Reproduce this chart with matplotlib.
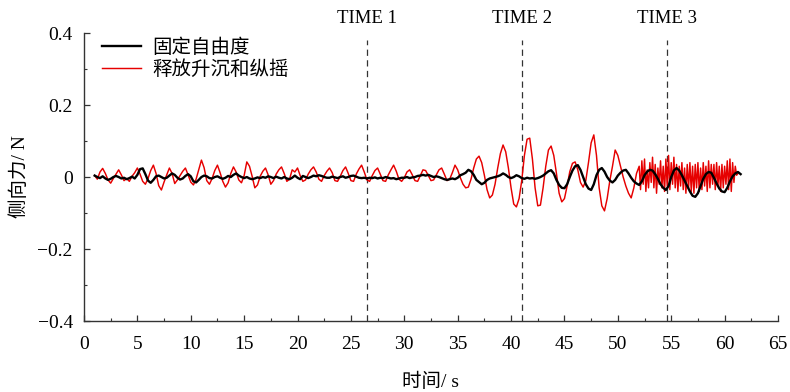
import numpy as np
import matplotlib
matplotlib.use("Agg")
import matplotlib.pyplot as plt
from matplotlib.ticker import MultipleLocator

plt.rcParams['font.family'] = ['Liberation Serif', 'Noto Sans CJK SC', 'DejaVu Sans']

# red: 释放升沉和纵摇, part A sampled every 0.25 s from t = 1.0 s
red_a_start, red_a_step = 1.0, 0.25
red_a = [
    0.004, -0.006, 0.014, 0.024,    # 1
    0.010, -0.008, -0.017, -0.004,  # 2
    0.008, 0.020, 0.006, -0.010,    # 3
    -0.004, -0.012, 0.002, 0.012,   # 4
    0.025, 0.008, -0.012, -0.020,   # 5
    -0.004, 0.018, 0.033, 0.010,    # 6
    -0.024, -0.036, -0.014, 0.006,  # 7
    0.025, 0.010, -0.018, -0.008,   # 8
    0.004, 0.016, 0.025, 0.006,     # 9
    -0.014, -0.022, -0.006, 0.020,  # 10
    0.047, 0.026, -0.010, -0.020,   # 11
    -0.004, 0.018, 0.033, 0.012,    # 12
    -0.012, -0.028, -0.016, 0.010,  # 13
    0.028, 0.014, -0.008, -0.016,   # 14
    0.004, 0.042, 0.030, 0.002,     # 15
    -0.030, -0.022, 0.002, 0.016,   # 16
    0.025, 0.006, -0.020, -0.010,   # 17
    0.008, 0.020, 0.028, 0.010,     # 18
    -0.012, -0.006, 0.020, 0.014,   # 19
    0.025, 0.004, -0.012, -0.008,   # 20
    0.008, 0.020, 0.028, 0.014,     # 21
    -0.006, -0.012, 0.004, 0.016,   # 22
    0.025, 0.012, -0.010, -0.012,   # 23
    0.002, 0.018, 0.028, 0.010,     # 24
    -0.010, -0.012, 0.008, 0.022,   # 25
    0.033, 0.014, -0.008, -0.012,   # 26
    0.004, 0.018, 0.025, 0.008,     # 27
    -0.010, -0.012, 0.006, 0.020,   # 28
    0.033, 0.016, -0.006, -0.012,   # 29
    -0.002, 0.014, 0.020, 0.006,    # 30
    -0.010, -0.012, 0.004, 0.020,   # 31
    0.018, 0.004, -0.010, -0.008,   # 32
    0.006, 0.020, 0.025, 0.008,     # 33
    -0.010, -0.006, 0.012, 0.033,   # 34
    0.020, -0.002, -0.020, -0.030,  # 35
    -0.028, -0.006, 0.025, 0.050,   # 36
    0.058, 0.040, 0.005, -0.035,    # 37
    -0.058, -0.050, -0.020, 0.025,  # 38
    0.065, 0.089, 0.070, 0.025,     # 39
    -0.030, -0.075, -0.083, -0.060, # 40
    -0.010, 0.060, 0.105, 0.108,    # 41
    0.050, -0.030, -0.080, -0.078,  # 42
    -0.030, 0.030, 0.075, 0.086,    # 43
    0.060, 0.010, -0.045, -0.069,   # 44
    -0.060, -0.025, 0.015, 0.038,   # 45
    0.042, 0.020, -0.015, -0.028,   # 46
    -0.010, 0.040, 0.095, 0.117,    # 47
    0.060, -0.030, -0.080, -0.094,  # 48
    -0.060, -0.010, 0.030, 0.075,   # 49
    0.060, 0.030, 0.000, -0.025,    # 50
    -0.045, -0.058, -0.030, 0.010,  # 51
]

# red part B: noisy section, every 0.125 s from t = 52.0 s
red_b_start, red_b_step = 52.0, 0.125
red_b = [
    0.030, -0.035, 0.045, -0.020, 0.050, -0.040, 0.020, -0.030,   # 52
    0.040, -0.015, 0.055, -0.030, 0.035, -0.045, 0.025, -0.020,   # 53
    0.045, -0.030, 0.030, -0.040, 0.050, -0.025, 0.060, -0.035,   # 54
    0.040, -0.020, 0.055, -0.030, 0.035, -0.040, 0.030, -0.025,   # 55
    0.040, -0.035, 0.025, -0.045, 0.035, -0.030, 0.040, -0.040,   # 56
    0.030, -0.045, 0.035, -0.030, 0.040, -0.040, 0.025, -0.035,   # 57
    0.040, -0.025, 0.030, -0.040, 0.045, -0.030, 0.035, -0.020,   # 58
    0.035, -0.035, 0.040, -0.025, 0.030, -0.040, 0.035, -0.030,   # 59
    0.030, -0.020, 0.045, -0.035, 0.050, -0.040, 0.040, -0.015,   # 60
    0.030, 0.005, 0.010,                                          # 61
]

# black: 固定自由度, every 0.25 s from t = 1.0 s
black_start, black_step = 1.0, 0.25
black = [
    0.004, 0.000, -0.003, 0.002,     # 1
    -0.004, -0.008, -0.005, 0.000,   # 2
    0.003, 0.000, -0.004, -0.002,    # 3
    -0.006, -0.003, 0.001, -0.004,   # 4
    0.006, 0.022, 0.024, 0.008,      # 5
    -0.010, -0.016, -0.008, 0.002,   # 6
    0.004, 0.000, -0.004, -0.002,    # 7
    0.004, 0.010, 0.006, -0.002,     # 8
    -0.007, -0.004, 0.003, 0.008,    # 9
    0.002, -0.012, -0.015, -0.008,   # 10
    0.000, 0.004, 0.002, -0.003,     # 11
    -0.004, 0.000, 0.002, -0.002,    # 12
    -0.005, -0.002, 0.003, 0.000,    # 13
    0.006, 0.010, 0.004, 0.000,      # 14
    -0.003, 0.000, -0.004, -0.006,   # 15
    -0.004, -0.001, -0.003, 0.000,   # 16
    -0.002, 0.002, 0.000, -0.003,    # 17
    0.001, -0.002, -0.004, 0.000,    # 18
    -0.004, -0.006, -0.002, 0.004,   # 19
    -0.002, -0.006, 0.003, 0.000,    # 20
    -0.003, 0.000, 0.004, 0.002,     # 21
    0.005, 0.003, 0.000, -0.002,     # 22
    -0.002, 0.001, -0.001, -0.003,   # 23
    0.000, 0.002, -0.002, 0.000,     # 24
    0.003, 0.004, 0.001, -0.002,     # 25
    -0.003, -0.002, -0.004, -0.002,  # 26
    -0.003, -0.001, -0.004, -0.002,  # 27
    -0.003, 0.000, -0.002, -0.004,   # 28
    -0.003, -0.006, -0.004, -0.002,  # 29
    -0.002, 0.000, -0.003, -0.001,   # 30
    0.000, 0.003, 0.004, 0.006,      # 31
    0.004, 0.006, 0.003, 0.000,      # 32
    0.002, 0.000, -0.003, -0.006,    # 33
    -0.008, -0.006, -0.004, -0.006,  # 34
    -0.002, 0.005, 0.008, 0.012,     # 35
    0.020, 0.016, 0.006, -0.008,     # 36
    -0.014, -0.020, -0.016, -0.008,  # 37
    -0.004, -0.002, 0.000, 0.002,    # 38
    0.005, 0.010, 0.006, 0.000,      # 39
    -0.003, 0.000, 0.005, 0.002,     # 40
    -0.003, -0.005, -0.002, -0.004,  # 41
    -0.003, -0.005, -0.003, 0.000,   # 42
    0.004, 0.010, 0.016, 0.019,      # 43
    0.010, -0.008, -0.022, -0.030,   # 44
    -0.031, -0.020, 0.000, 0.018,    # 45
    0.030, 0.033, 0.020, 0.000,      # 46
    -0.020, -0.032, -0.036, -0.020,  # 47
    0.005, 0.020, 0.025, 0.015,      # 48
    0.000, -0.010, -0.015, -0.008,   # 49
    0.004, 0.012, 0.018, 0.020,      # 50
    0.010, -0.002, -0.012, -0.018,   # 51
    -0.022, -0.012, 0.005, 0.015,    # 52
    0.020, 0.018, 0.008, -0.005,     # 53
    -0.020, -0.030, -0.036, -0.025,  # 54
    0.000, 0.018, 0.025, 0.018,      # 55
    0.005, -0.010, -0.025, -0.040,   # 56
    -0.052, -0.055, -0.045, -0.025,  # 57
    -0.005, 0.008, 0.014, 0.012,     # 58
    -0.002, -0.018, -0.032, -0.040,  # 59
    -0.042, -0.030, -0.012, 0.002,   # 60
    0.010, 0.014, 0.008,             # 61
]

time_marks = [26.5, 41.0, 54.6]
time_labels = ["TIME 1", "TIME 2", "TIME 3"]

x_ticks = [0, 5, 10, 15, 20, 25, 30, 35, 40, 45, 50, 55, 60, 65]
y_ticks = [-0.4, -0.2, 0.0, 0.2, 0.4]
y_tick_labels = ["\u22120.4", "\u22120.2", "0", "0.2", "0.4"]

# sample times
t_red = np.concatenate([
    red_a_start + red_a_step * np.arange(len(red_a)),
    red_b_start + red_b_step * np.arange(len(red_b)),
])
y_red = np.array(red_a + red_b)
t_black = black_start + black_step * np.arange(len(black))
y_black = np.array(black)

fig = plt.figure(figsize=(7.9, 3.92), dpi=100)
ax = fig.add_axes([0.1063, 0.181, 0.8785, 0.7348])

ax.plot(t_red, y_red, color="#e60000", lw=1.05, label="释放升沉和纵摇", zorder=2)
ax.plot(t_black, y_black, color="black", lw=1.7, label="固定自由度", zorder=3)

for xm, lab in zip(time_marks, time_labels):
    ax.vlines(xm, -0.4, 0.38, colors="#333333", linestyles=(0, (5, 3.5)), lw=0.9, zorder=1)
    ax.text(xm, 0.44, lab, ha="center", va="center", fontsize=13.5,
            family="Liberation Serif", clip_on=False)

ax.set_xlim(0, 65)
ax.set_ylim(-0.4, 0.4)
ax.set_xticks(x_ticks)
ax.set_xticklabels([str(v) for v in x_ticks])
ax.set_yticks(y_ticks)
ax.set_yticklabels(y_tick_labels)
ax.xaxis.set_minor_locator(MultipleLocator(2.5))
ax.yaxis.set_minor_locator(MultipleLocator(0.1))
ax.tick_params(axis="both", which="major", direction="in", length=4.5, width=0.9,
               labelsize=14, color="#333333")
ax.tick_params(axis="both", which="minor", direction="in", length=2.5, width=0.8,
               color="#333333")
ax.tick_params(axis="x", which="major", pad=11)
ax.tick_params(axis="y", which="major", pad=8)

for side in ["top", "right"]:
    ax.spines[side].set_visible(False)
for side in ["left", "bottom"]:
    ax.spines[side].set_linewidth(1.0)
    ax.spines[side].set_color("#333333")

ax.set_xlabel("时间/ s", fontsize=14, labelpad=14)
ax.set_ylabel("侧向力/ N", fontsize=14, labelpad=6)

handles, labels = ax.get_legend_handles_labels()
ax.legend(handles[::-1], labels[::-1], loc="upper left", bbox_to_anchor=(0.026, 0.982),
          frameon=False, fontsize=14, handlelength=2.0, handletextpad=0.6,
          labelspacing=0.2, borderpad=0, borderaxespad=0)

fig.savefig("out.png", dpi=100)
